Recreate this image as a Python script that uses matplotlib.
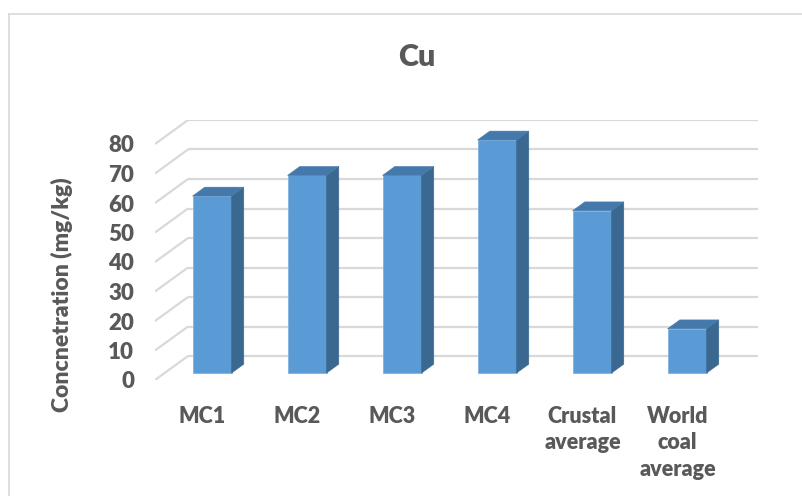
import matplotlib
matplotlib.use("Agg")
import matplotlib.pyplot as plt
from matplotlib.patches import Polygon
from matplotlib.lines import Line2D
import numpy as np

plt.rcParams['font.family'] = ['Lato', 'DejaVu Sans']

categories = ["MC1", "MC2", "MC3", "MC4", "Crustal\naverage", "World\ncoal\naverage"]
values = [60, 67, 67, 79, 55, 15]
y_ticks = [0, 10, 20, 30, 40, 50, 60, 70, 80]
title = "Cu"
y_label = "Concnetration (mg/kg)"

TEXT = "#595959"
GRID = "#D9D9D9"
FRONT = "#5B9BD5"
SIDE = "#3A6890"
TOP = "#4679AB"
WEIGHT = 800

W, H = 803, 496
fig = plt.figure(figsize=(W / 100, H / 100), dpi=100)

# plot area in pixels: front-left floor corner and back-right top corner
px_left, px_right = 155, 758
px_bottom, px_top = 380, 120
cat_px = 95.0                   # pixels per category slot
val_px = (380 - 144) / 80.0     # pixels per value unit
depth_px = (33.0, 24.0)         # oblique depth vector of the floor (right, up)

ddx = depth_px[0] / cat_px      # depth vector in data units
ddy = depth_px[1] / val_px
ymax = y_ticks[-1]

ax = fig.add_axes([px_left / W, 1 - px_bottom / H,
                   (px_right - px_left) / W, (px_bottom - px_top) / H])
n = len(categories)
ax.set_xlim(-0.5, n - 0.5 + ddx)
ax.set_ylim(0, ymax + ddy)
for s in ax.spines.values():
    s.set_visible(False)
ax.set_facecolor("none")

# back wall and side wall gridlines
for v in y_ticks:
    ax.plot([-0.5 + ddx, n - 0.5 + ddx], [v + ddy, v + ddy],
            color=GRID, lw=1.6, zorder=1, solid_capstyle="butt")
    ax.plot([-0.5, -0.5 + ddx], [v, v + ddy],
            color=GRID, lw=1.6, zorder=1, solid_capstyle="butt")

# 3D-style columns sitting partway into the floor depth
f0, f1 = 0.29, 0.66
bw = 39.0 / cat_px
x = np.arange(n)
xf = x + f0 * ddx
y0 = f0 * ddy
bdx = (f1 - f0) * ddx
bdy = (f1 - f0) * ddy
ax.bar(xf, values, width=bw, bottom=y0, color=FRONT,
       edgecolor="#7FB2E0", linewidth=0.6, zorder=3)
for xi, v in zip(xf, values):
    xl, xr = xi - bw / 2, xi + bw / 2
    yt = y0 + v
    ax.add_patch(Polygon([(xr, y0), (xr + bdx, y0 + bdy),
                          (xr + bdx, yt + bdy), (xr, yt)],
                         closed=True, facecolor=SIDE, edgecolor=SIDE,
                         lw=0.4, zorder=3))
    ax.add_patch(Polygon([(xl, yt), (xr, yt), (xr + bdx, yt + bdy),
                          (xl + bdx, yt + bdy)],
                         closed=True, facecolor=TOP, edgecolor=TOP,
                         lw=0.4, zorder=3))

ax.set_yticks(y_ticks)
ax.set_yticklabels([str(t) for t in y_ticks])
ax.set_xticks(x)
ax.set_xticklabels(categories, linespacing=1.3)
ax.tick_params(axis="y", length=0, pad=15, labelsize=16, labelcolor=TEXT)
ax.tick_params(axis="x", length=0, pad=19, labelsize=15.5, labelcolor=TEXT)
for lab in ax.get_yticklabels() + ax.get_xticklabels():
    lab.set_fontweight(WEIGHT)
for lab in ax.get_xticklabels():
    lab.set_verticalalignment("top")
    lab.set_horizontalalignment("center")
    lab.set_multialignment("center")

fig.text(416.5 / W, 1 - 57 / H, title, ha="center", va="center",
         fontsize=22, fontweight=WEIGHT, color=TEXT)
fig.text(62 / W, 1 - 295 / H, y_label, rotation=90, ha="center",
         va="center", fontsize=16.5, fontweight=WEIGHT, color=TEXT)

# chart area border
fig.add_artist(Line2D([9.5 / W, 9.5 / W], [0, 1 - 14 / H],
                      transform=fig.transFigure, color=GRID, lw=1.2))
fig.add_artist(Line2D([9.5 / W, 1], [1 - 14 / H, 1 - 14 / H],
                      transform=fig.transFigure, color=GRID, lw=1.2))

fig.savefig("out.png", dpi=100)
